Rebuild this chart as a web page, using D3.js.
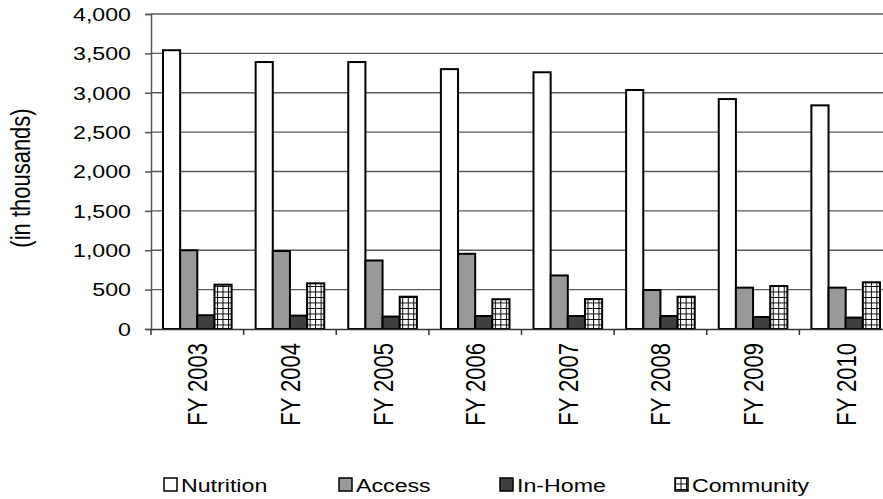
<!DOCTYPE html>
<html>
    <head>
        <script src="https://d3js.org/d3.v7.min.js"></script>
        <style>
            body {
                margin: 0;
                overflow: hidden;
                background: #fff;
            }
            text {
                font-family: 'Liberation Sans', Arial, sans-serif;
                fill: #000;
            }
        </style>
    </head>
    <body>
        <script>
            const years = ['FY 2003', 'FY 2004', 'FY 2005', 'FY 2006', 'FY 2007', 'FY 2008', 'FY 2009', 'FY 2010'];
            const seriesNames = ['Nutrition', 'Access', 'In-Home', 'Community'];
            const nutrition = [3540, 3390, 3390, 3300, 3260, 3035, 2920, 2840];
            const access = [1000, 990, 870, 955, 680, 495, 525, 525];
            const inHome = [175, 170, 158, 165, 165, 165, 152, 145];
            const community = [563, 580, 410, 378, 380, 410, 546, 593];
            const yTicks = [0, 500, 1000, 1500, 2000, 2500, 3000, 3500, 4000];

            const width = 883;
            const height = 499;
            const sx = 1.22; // the source text is drawn a bit wide
            const svg = d3.select('body').append('svg').attr('width', width).attr('height', height);

            const defs = svg.append('defs');
            const pat = defs.append('pattern').attr('id', 'grid').attr('patternUnits', 'userSpaceOnUse').attr('width', 5.5).attr('height', 5.5);
            pat.append('rect').attr('width', 5.5).attr('height', 5.5).attr('fill', '#fff');
            pat.append('path').attr('d', 'M0,0H5.5M0,0V5.5').attr('stroke', '#000').attr('stroke-width', 2);

            const fills = ['#ffffff', '#999999', '#404040', 'url(#grid)'];
            const data = years.map((y, i) => ({ year: y, values: [nutrition[i], access[i], inHome[i], community[i]] }));

            const x = d3.scaleBand().domain(years).range([151, 892]);
            const xs = d3.scaleBand().domain(seriesNames).range([12, x.bandwidth() - 12]);
            const y = d3.scaleLinear().domain([0, 4000]).range([329, 14]);

            // gridlines
            svg.append('g')
                .selectAll('line')
                .data(yTicks.filter((d) => d > 0))
                .join('line')
                .attr('x1', 151)
                .attr('x2', 892)
                .attr('y1', (d) => y(d))
                .attr('y2', (d) => y(d))
                .attr('stroke', '#5a5a5a')
                .attr('stroke-width', 1.3);

            // y axis
            const yAxis = svg
                .append('g')
                .attr('transform', 'translate(151,0)')
                .call(d3.axisLeft(y).tickValues(yTicks).tickSize(6).tickFormat(''));
            yAxis.select('.domain').attr('stroke', '#555').attr('stroke-width', 1.5);
            yAxis.selectAll('.tick line').attr('stroke', '#555').attr('stroke-width', 1.5);
            yAxis.selectAll('.tick text').remove();
            svg.append('g')
                .selectAll('text')
                .data(yTicks)
                .join('text')
                .attr('transform', (d) => `translate(131,${y(d)}) scale(${sx},1)`)
                .attr('dy', '0.36em')
                .attr('text-anchor', 'end')
                .attr('font-size', 19)
                .text(d3.format(','));

            // bars
            const groups = svg
                .append('g')
                .selectAll('g')
                .data(data)
                .join('g')
                .attr('transform', (d) => `translate(${x(d.year)},0)`);
            groups
                .selectAll('rect')
                .data((d) => d.values.map((v, i) => ({ name: seriesNames[i], value: v, i })))
                .join('rect')
                .attr('x', (d) => xs(d.name))
                .attr('width', xs.bandwidth())
                .attr('y', (d) => y(d.value))
                .attr('height', (d) => y(0) - y(d.value))
                .attr('fill', (d) => fills[d.i])
                .attr('stroke', '#000')
                .attr('stroke-width', 2);

            // x axis
            const xAxis = svg
                .append('g')
                .attr('transform', 'translate(0,329)')
                .call(d3.axisBottom(x).tickSize(0).tickFormat(''));
            xAxis.select('.domain').attr('stroke', '#333').attr('stroke-width', 1.5);
            svg.append('g')
                .selectAll('line')
                .data(d3.range(years.length + 1))
                .join('line')
                .attr('x1', (i) => 151 + i * x.step())
                .attr('x2', (i) => 151 + i * x.step())
                .attr('y1', 329)
                .attr('y2', 335)
                .attr('stroke', '#333')
                .attr('stroke-width', 1.5);
            svg.append('g')
                .selectAll('text')
                .data(years)
                .join('text')
                .attr('transform', (d) => `translate(${x(d) + x.bandwidth() / 2 + 10},343) scale(${sx},1) rotate(-90)`)
                .attr('text-anchor', 'end')
                .attr('font-size', 22)
                .text((d) => d);

            // y title
            svg.append('text')
                .attr('transform', `translate(30,178) scale(${sx},1) rotate(-90)`)
                .attr('text-anchor', 'middle')
                .attr('font-size', 22)
                .text('(in thousands)');

            // legend
            const legendX = [164, 339, 500, 675];
            const legend = svg
                .append('g')
                .selectAll('g')
                .data(seriesNames)
                .join('g')
                .attr('transform', (d, i) => `translate(${legendX[i]},478)`);
            legend
                .append('rect')
                .attr('width', 13)
                .attr('height', 13)
                .attr('fill', (d, i) => fills[i])
                .attr('stroke', '#000')
                .attr('stroke-width', 1.5);
            legend
                .append('text')
                .attr('transform', `translate(17,14) scale(${sx},1)`)
                .attr('font-size', 19)
                .text((d) => d);
        </script>
    </body>
</html>
